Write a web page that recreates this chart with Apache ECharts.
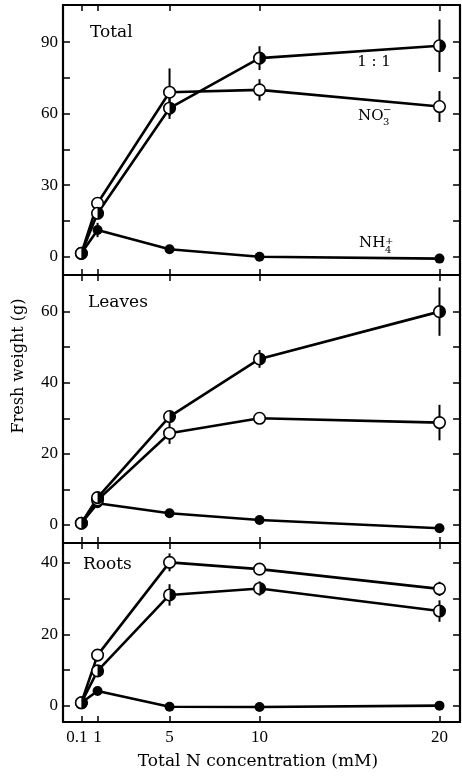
<!DOCTYPE html>
<html>
<head>
<meta charset="utf-8">
<style>
html, body { margin: 0; padding: 0; background: #fff; }
#chart { width: 462px; height: 778px; }
</style>
<script src="https://cdn.jsdelivr.net/npm/echarts@6.0.0/dist/echarts.min.js"></script>
</head>
<body>
<div id="chart"></div>
<script>
// total N concentration (mM)
var conc = [0.1, 1, 5, 10, 20];
var xTicks = [0.1, 1, 5, 10, 20];

// Total
var nh4Total = [1.4, 11.2, 3.1, 0, -0.8];
var no3Total = [1.4, 22.4, 69, 70, 63];
var mixTotal = [1.4, 18.2, 62.3, 83.3, 88.5];
var nh4TotalErr = [0, 3, 0, 0, 0];
var no3TotalErr = [0, 2, 10, 4.5, 6.5];
var mixTotalErr = [0, 2.5, 4.5, 5, 11];
var totalTicks = [0, 15, 30, 45, 60, 75, 90];
var totalLabels = [0, 30, 60, 90];

// Leaves
var nh4Leaves = [0.5, 6.1, 3.3, 1.4, -0.9];
var no3Leaves = [0.5, 7, 25.8, 30, 28.8];
var mixLeaves = [0.5, 7.7, 30.5, 46.7, 60];
var nh4LeavesErr = [0, 0, 0, 0, 0];
var no3LeavesErr = [0, 0, 3, 1.5, 5];
var mixLeavesErr = [0, 1, 1, 2.5, 6.8];
var leavesTicks = [0, 10, 20, 30, 40, 50, 60];
var leavesLabels = [0, 20, 40, 60];

// Roots
var nh4Roots = [0.9, 4.2, -0.2, -0.3, 0.1];
var no3Roots = [0.9, 14.2, 40.1, 38.2, 32.7];
var mixRoots = [0.9, 9.8, 31, 32.8, 26.5];
var nh4RootsErr = [0, 0, 0, 0, 0];
var no3RootsErr = [0, 1, 2.5, 1.5, 2];
var mixRootsErr = [0, 1, 3, 2, 3];
var rootsTicks = [0, 10, 20, 30, 40];
var rootsLabels = [0, 20, 40];

var serif  = '"DejaVu Serif", serif';
var digits = '"Liberation Serif", serif';
var black  = '#000';

var panels = [
	{top: 5,   height: 270, min: -7.68, max: 105.6, ticks: totalTicks,  labels: totalLabels,
	 nh4: nh4Total,  no3: no3Total,  mix: mixTotal,  errs: [nh4TotalErr, no3TotalErr, mixTotalErr]},
	{top: 275, height: 268, min: -5.06, max: 70.3,  ticks: leavesTicks, labels: leavesLabels,
	 nh4: nh4Leaves, no3: no3Leaves, mix: mixLeaves, errs: [nh4LeavesErr, no3LeavesErr, mixLeavesErr]},
	{top: 543, height: 179, min: -4.47, max: 45.5,  ticks: rootsTicks,  labels: rootsLabels,
	 nh4: nh4Roots,  no3: no3Roots,  mix: mixRoots,  errs: [nh4RootsErr, no3RootsErr, mixRootsErr]}
];

function pairs(ys) {
	var out = [];
	for (var i = 0; i < conc.length; i++) {
		out.push([conc[i], ys[i]]);
	}
	return out;
}

function renderErr(params, api) {
	var x = api.value(0), y = api.value(1), e = api.value(2);
	var p1 = api.coord([x, y + e]);
	var p2 = api.coord([x, y - e]);
	return {
		type: 'line',
		shape: {x1: p1[0], y1: p1[1], x2: p2[0], y2: p2[1]},
		style: {stroke: black, lineWidth: 2}
	};
}

// right half of the 1:1 marker is filled
function renderHalf(params, api) {
	var p = api.coord([api.value(0), api.value(1)]);
	return {
		type: 'sector',
		shape: {cx: p[0], cy: p[1], r0: 0, r: 5.8, startAngle: -Math.PI / 2, endAngle: Math.PI / 2},
		style: {fill: black}
	};
}

var grids = [], xAxes = [], yAxes = [], series = [];
var frame = {color: black, width: 2.2};
var tickStyle = {color: black, width: 1.5};

panels.forEach(function (p, i) {
	grids.push({left: 63, width: 397, top: p.top, height: p.height});

	['bottom', 'top'].forEach(function (pos) {
		var showLabel = (i === 2 && pos === 'bottom');
		xAxes.push({
			gridIndex: i, type: 'value', position: pos,
			min: -0.92, max: 21.14,
			axisLine: {show: true, onZero: false, lineStyle: frame},
			axisTick: {show: true, inside: true, length: 6, customValues: xTicks, lineStyle: tickStyle},
			axisLabel: {
				show: showLabel, customValues: xTicks, margin: 7,
				color: black, fontFamily: digits, fontSize: 17,
				formatter: function (v) {
					return v === 0.1 ? '{s|0.1}' : '{n|' + v + '}';
				},
				rich: {
					s: {fontFamily: digits, fontSize: 17, color: black, padding: [0, 9, 0, 0]},
					n: {fontFamily: digits, fontSize: 17, color: black}
				}
			},
			splitLine: {show: false}
		});
	});

	['left', 'right'].forEach(function (pos) {
		yAxes.push({
			gridIndex: i, type: 'value', position: pos,
			min: p.min, max: p.max,
			axisLine: {show: true, onZero: false, lineStyle: frame},
			axisTick: {show: true, inside: true, length: 7, customValues: p.ticks, lineStyle: tickStyle},
			axisLabel: {
				show: pos === 'left', customValues: p.labels, margin: 5,
				color: black, fontFamily: digits, fontSize: 17
			},
			splitLine: {show: false}
		});
	});

	var xi = i * 2, yi = i * 2;

	// error bars first so the markers cover them
	var errData = [];
	[p.nh4, p.no3, p.mix].forEach(function (ys, k) {
		for (var j = 0; j < conc.length; j++) {
			if (p.errs[k][j] > 0) errData.push([conc[j], ys[j], p.errs[k][j]]);
		}
	});
	series.push({
		type: 'custom', xAxisIndex: xi, yAxisIndex: yi, z: 1,
		renderItem: renderErr, encode: {x: 0, y: 1}, data: errData, silent: true
	});

	series.push({
		name: 'NH4+', type: 'line', xAxisIndex: xi, yAxisIndex: yi, z: 2,
		data: pairs(p.nh4), symbol: 'circle', symbolSize: 10,
		itemStyle: {color: black},
		lineStyle: {color: black, width: 2.6}
	});
	series.push({
		name: 'NO3-', type: 'line', xAxisIndex: xi, yAxisIndex: yi, z: 2,
		data: pairs(p.no3), symbol: 'circle', symbolSize: 11.5,
		itemStyle: {color: '#fff', borderColor: black, borderWidth: 1.6},
		lineStyle: {color: black, width: 2.6}
	});
	series.push({
		name: '1:1', type: 'line', xAxisIndex: xi, yAxisIndex: yi, z: 2,
		data: pairs(p.mix), symbol: 'circle', symbolSize: 11.5,
		itemStyle: {color: '#fff', borderColor: black, borderWidth: 1.6},
		lineStyle: {color: black, width: 2.6}
	});
	series.push({
		type: 'custom', xAxisIndex: xi, yAxisIndex: yi, z: 3,
		renderItem: renderHalf, encode: {x: 0, y: 1}, data: pairs(p.mix), silent: true
	});
});

function txt(text, x, y, size, align, extra) {
	var el = {
		type: 'text', x: x, y: y, z: 10,
		style: {
			text: text, fill: black,
			font: size + 'px ' + serif,
			textAlign: align || 'left', align: align || 'left',
			textVerticalAlign: 'middle', verticalAlign: 'middle'
		}
	};
	if (extra) {
		for (var k in extra) el[k] = extra[k];
	}
	return el;
}

var labels = [
	txt('Total', 90, 33, 17),
	txt('Leaves', 88, 303, 17),
	txt('Roots', 83, 565, 17),
	txt('1 : 1', 374, 62, 15, 'center'),
	txt('NO', 358, 116.5, 15),
	txt('3', 383, 122, 10),
	txt('\u2212', 383, 110, 10),
	txt('NH', 359, 243.5, 15),
	txt('4', 385, 250, 10),
	txt('+', 385, 241, 10),
	txt('Fresh weight (g)', 19, 366, 16, 'center', {rotation: Math.PI / 2}),
	txt('Total N concentration (mM)', 258, 762, 17, 'center')
];

var myChart = echarts.init(document.getElementById('chart'));
myChart.setOption({
	animation: false,
	backgroundColor: '#fff',
	grid: grids,
	xAxis: xAxes,
	yAxis: yAxes,
	series: series,
	graphic: labels
});
</script>
</body>
</html>
